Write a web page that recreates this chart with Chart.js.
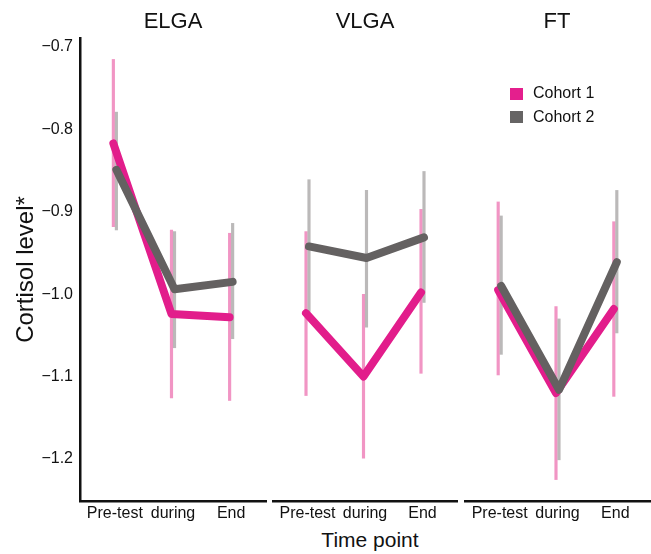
<!DOCTYPE html>
<html>
<head>
<meta charset="utf-8">
<script src="https://cdn.jsdelivr.net/npm/chart.js@4/dist/chart.umd.min.js"></script>
<style>
  body { margin: 0; background: #fff; }
  #wrap { position: relative; width: 651px; height: 554px; font-family: "Liberation Sans", Arial, sans-serif; color: #111; }
  canvas { position: absolute; top: 0; }
  .ttl { position: absolute; text-align: center; font-size: 22px; line-height: 22px; top: 10px; width: 140px; }
  .leg { position: absolute; left: 510px; font-size: 16px; line-height: 16px; }
  .leg i { position: absolute; left: 0; width: 13px; height: 12px; }
  .leg span { position: absolute; left: 23px; top: 0; white-space: nowrap; }
</style>
</head>
<body>
<div id="wrap">
  <canvas id="c0" width="268" height="524" style="left:0px"></canvas>
  <canvas id="c1" width="188" height="524" style="left:271px"></canvas>
  <canvas id="c2" width="188" height="524" style="left:463px"></canvas>
  <div class="ttl" style="left:103px">ELGA</div>
  <div class="ttl" style="left:295px">VLGA</div>
  <div class="ttl" style="left:487px">FT</div>
  <div class="leg" style="top:85px"><i style="top:3px;background:#e41f8d"></i><span>Cohort 1</span></div>
  <div class="leg" style="top:109px"><i style="top:2px;background:#666464"></i><span>Cohort 2</span></div>
  <div style="position:absolute;left:270px;width:200px;top:529px;text-align:center;font-size:21px;line-height:21px">Time point</div>
</div>
<script>
(function () {
// data
const groups = ['ELGA', 'VLGA', 'FT'];
const timeLabels = ['Pre-test', 'during', 'End'];
const yTicks = [-1.2, -1.1, -1.0, -0.9, -0.8, -0.7];

// cohort 1 (pink), one row per group
const c1Mean = [
    [-0.817, -1.024, -1.028],
    [-1.023, -1.100, -0.998],
    [-0.995, -1.120, -1.018]
];
const c1Low = [
    [-0.918, -1.126, -1.129],
    [-1.123, -1.199, -1.096],
    [-1.098, -1.225, -1.124]
];
const c1High = [
    [-0.715, -0.922, -0.926],
    [-0.924, -1.000, -0.897],
    [-0.888, -1.015, -0.912]
];

// cohort 2 (grey)
const c2Mean = [
    [-0.849, -0.994, -0.985],
    [-0.942, -0.956, -0.931],
    [-0.990, -1.116, -0.961]
];
const c2Low = [
    [-0.922, -1.065, -1.054],
    [-1.021, -1.040, -1.010],
    [-1.073, -1.201, -1.047]
];
const c2High = [
    [-0.779, -0.924, -0.914],
    [-0.861, -0.874, -0.851],
    [-0.905, -1.030, -0.874]
];

const dodge = 0.026;
const pink = '#e21d8b';
const pinkErr = 'rgba(238, 130, 186, 0.85)';
const grey = '#646161';
const greyErr = 'rgba(170, 168, 168, 0.8)';

Chart.defaults.font.family = '"Liberation Sans", Arial, sans-serif';
Chart.defaults.color = '#111';

const pads = [
    { top: 38, left: 0, right: 2, bottom: 0 },
    { top: 38, left: 2, right: 2, bottom: 0 },
    { top: 38, left: 2, right: 1, bottom: 0 }
];

function pts(vals, shift) {
    return vals.map((v, i) => ({ x: i + shift, y: v }));
}
function bars(lo, hi, shift) {
    return lo.map((v, i) => ({ x: i + shift, y: [v, hi[i]] }));
}

groups.forEach((g, k) => {
    const ctx = document.getElementById('c' + k).getContext('2d');
    new Chart(ctx, {
        type: 'line',
        data: {
            datasets: [
                {
                    type: 'bar',
                    data: bars(c1Low[k], c1High[k], -dodge),
                    backgroundColor: pinkErr,
                    barThickness: 2.5,
                    grouped: false,
                    order: 3
                },
                {
                    type: 'bar',
                    data: bars(c2Low[k], c2High[k], dodge),
                    backgroundColor: greyErr,
                    barThickness: 2.5,
                    grouped: false,
                    order: 2
                },
                {
                    label: 'Cohort 1',
                    data: pts(c1Mean[k], -dodge),
                    borderColor: pink,
                    borderWidth: 8,
                    borderCapStyle: 'round',
                    borderJoinStyle: 'round',
                    pointRadius: 0,
                    tension: 0,
                    order: 1
                },
                {
                    label: 'Cohort 2',
                    data: pts(c2Mean[k], dodge),
                    borderColor: grey,
                    borderWidth: 8,
                    borderCapStyle: 'round',
                    borderJoinStyle: 'round',
                    pointRadius: 0,
                    tension: 0,
                    order: 0
                }
            ]
        },
        options: {
            responsive: false,
            animation: false,
            layout: { padding: pads[k] },
            plugins: {
                legend: { display: false },
                tooltip: { enabled: false }
            },
            scales: {
                x: {
                    type: 'linear',
                    offset: false,
                    min: -0.6,
                    max: 2.6,
                    grid: { display: false, drawTicks: false, offset: false },
                    border: { display: true, color: '#111', width: 2.5 },
                    afterBuildTicks: s => { s.ticks = timeLabels.map((_, i) => ({ value: i })); },
                    afterFit: s => { s.height = 23; },
                    ticks: {
                        padding: 3,
                        autoSkip: false,
                        maxRotation: 0,
                        font: { size: 16 },
                        callback: (v, i) => timeLabels[i]
                    }
                },
                y: {
                    display: k === 0,
                    min: -1.251,
                    max: -0.689,
                    grid: { display: false, drawTicks: false },
                    border: { display: true, color: '#111', width: 2.5 },
                    afterBuildTicks: s => { s.ticks = yTicks.map(v => ({ value: v })); },
                    afterFit: s => { if (k === 0) s.width = 80; },
                    ticks: {
                        padding: 7,
                        font: { size: 16 },
                        callback: v => v.toFixed(1).replace('-', '\u2212')
                    },
                    title: {
                        display: true,
                        text: 'Cortisol level*',
                        font: { size: 24 },
                        padding: { top: 12, bottom: 0 }
                    }
                }
            }
        }
    });
});
})();
</script>
</body>
</html>
